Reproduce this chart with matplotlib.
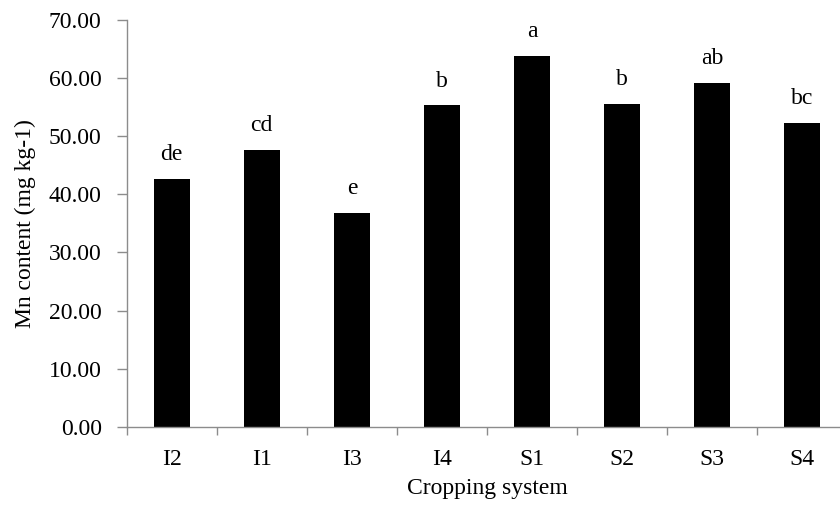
import matplotlib
matplotlib.use("Agg")
import matplotlib.pyplot as plt

# values
systems = ["I2", "I1", "I3", "I4", "S1", "S2", "S3", "S4"]
mn_content = [42.6, 47.6, 36.8, 55.3, 63.8, 55.5, 59.2, 52.3]
letters = ["de", "cd", "e", "b", "a", "b", "ab", "bc"]
yticks = [0, 10, 20, 30, 40, 50, 60, 70]

plt.rcParams['font.family'] = ['Liberation Serif', 'DejaVu Serif']
axis_grey = '#8c8c8c'
fs = 17

fig = plt.figure(figsize=(8.4, 5.05), dpi=100)
# axis runs slightly past the right edge of the picture, like the original
ax = fig.add_axes([0.1508, 0.155, 0.858, 0.8053])

x = range(len(systems))
ax.bar(x, mn_content, width=0.4, color='black')

for i, (v, lab) in enumerate(zip(mn_content, letters)):
    ax.annotate(lab, (i, v), xytext=(0, 10), textcoords='offset points',
                ha='center', va='bottom', fontsize=fs)

ax.set_xlim(-0.5, len(systems) - 0.5)
ax.set_ylim(0, 70)
ax.set_yticks(yticks)
ax.set_yticklabels([f"{t:.2f}" for t in yticks])

# category labels centred, tick marks between categories
ax.set_xticks(list(x))
ax.set_xticklabels(systems)
ax.set_xticks([i - 0.5 for i in range(len(systems) + 1)], minor=True)
ax.tick_params(axis='x', which='major', length=0, pad=16, labelsize=fs)
ax.tick_params(axis='x', which='minor', length=6, width=1, color=axis_grey, direction='out')
ax.tick_params(axis='y', length=7, width=1, color=axis_grey, pad=11, labelsize=fs)

for s in ['top', 'right']:
    ax.spines[s].set_visible(False)
for s in ['left', 'bottom']:
    ax.spines[s].set_color(axis_grey)
    ax.spines[s].set_linewidth(1)

ax.set_ylabel("Mn content (mg kg-1)", fontsize=fs, labelpad=9)
ax.set_xlabel("Cropping system", fontsize=fs, labelpad=6)

fig.savefig("out.png", dpi=100)
